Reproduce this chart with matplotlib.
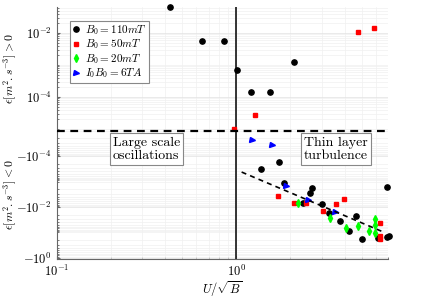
import numpy as np
import matplotlib
matplotlib.use("Agg")
import matplotlib.pyplot as plt
from matplotlib.ticker import FixedLocator, LogLocator, FuncFormatter, NullFormatter

plt.rcParams['font.family'] = 'serif'
plt.rcParams['font.serif'] = ['cmr10', 'DejaVu Serif']
plt.rcParams['mathtext.fontset'] = 'cm'
plt.rcParams['axes.formatter.use_mathtext'] = True

# --- data : U/sqrt(B) et epsilon (>0 en haut, |eps| pour eps<0 en bas) ---
# B0 = 110 mT
b110_pos_x = [0.428, 0.641, 0.855, 1.013, 1.207, 1.545, 2.10]
b110_pos_y = [0.066, 5.6e-3, 5.6e-3, 7.1e-4, 1.44e-4, 1.44e-4, 1.24e-3]
b110_neg_x = [1.733, 1.371, 1.848, 2.65, 2.58, 2.335, 2.99, 3.28, 4.62, 3.78, 4.21, 4.99, 6.10, 6.87, 6.87, 7.05]
b110_neg_y = [1.67e-4, 3.33e-4, 1.09e-3, 1.85e-3, 2.9e-3, 6.8e-3, 7.6e-3, 0.0177, 0.0236, 0.0344, 0.0873, 0.18, 0.164, 1.69e-3, 0.146, 0.133]
# B0 = 50 mT
b50_pos_x = [1.264, 0.966, 4.76, 5.84]
b50_pos_y = [2.7e-5, 1.0e-5, 0.0107, 0.0147]
b50_neg_x = [1.696, 2.10, 2.44, 3.58, 3.98, 3.05, 6.31, 6.31, 6.31]
b50_neg_y = [3.8e-3, 6.8e-3, 6.8e-3, 7.6e-3, 4.99e-3, 0.014, 0.0413, 0.133, 0.18]
# B0 = 20 mT
b20_neg_x = [2.21, 3.31, 4.07, 4.78, 5.45, 5.92, 5.92, 5.92]
b20_neg_y = [7.0e-3, 0.0277, 0.0684, 0.0546, 0.0873, 0.0303, 0.0531, 0.102]
# I0 B0 = 6 TA
i6_neg_x = [1.216, 1.578, 1.888, 2.52, 3.55]
i6_neg_y = [2.42e-5, 3.8e-5, 1.54e-3, 5.3e-3, 0.0161]
# ajustement (pente ~ 3)
fit_x = [1.07, 6.50]
fit_y = [4.24e-4, 0.093]

labels = [r'$B_0 = 110mT$', r'$B_0 = 50mT$', r'$B_0 = 20mT$', r'$I_0B_0 = 6TA$']

fig = plt.figure(figsize=(4.29, 2.99), dpi=100)
axL = 0.132
axW = 0.773
ax_top = fig.add_axes([axL, 0.563, axW, 0.414])
ax_bot = fig.add_axes([axL, 0.134, axW, 0.429], sharex=ax_top)

spine_col = '#666666'
for ax in (ax_top, ax_bot):
    ax.set_xscale('log')
    ax.set_yscale('log')
    for s in ('top', 'right'):
        ax.spines[s].set_visible(False)
    ax.spines['left'].set_color(spine_col)
    ax.spines['bottom'].set_color(spine_col)
    ax.tick_params(which='both', direction='in', colors=spine_col, labelcolor='black',
                   labelsize=9, length=2.5)
    ax.tick_params(which='minor', length=1.5)
    ax.grid(True, which='major', color='#e2e2e2', lw=0.5)
    ax.grid(True, which='minor', color='#f0f0f0', lw=0.5)
    ax.set_axisbelow(True)
ax_top.spines['bottom'].set_visible(False)
ax_bot.tick_params(axis='x', which='major', pad=3.5)

ax_top.set_xlim(0.1, 7.0)
ax_top.set_ylim(8.9e-6, 0.065)
ax_bot.set_ylim(1.1, 1.0e-5)

ax_top.yaxis.set_major_locator(FixedLocator([1e-4, 1e-2]))
ax_top.yaxis.set_major_formatter(FuncFormatter(lambda v, p: r'$10^{%d}$' % round(np.log10(v))))
ax_top.yaxis.set_minor_locator(LogLocator(base=10, subs=np.arange(1, 10), numticks=20))
ax_top.yaxis.set_minor_formatter(NullFormatter())
ax_bot.yaxis.set_major_locator(FixedLocator([1e-4, 1e-2, 1.0]))
ax_bot.yaxis.set_major_formatter(FuncFormatter(lambda v, p: r'$-10^{%d}$' % round(np.log10(v))))
ax_bot.yaxis.set_minor_locator(LogLocator(base=10, subs=np.arange(1, 10), numticks=20))
ax_bot.yaxis.set_minor_formatter(NullFormatter())
ax_bot.xaxis.set_major_locator(FixedLocator([0.1, 1.0]))
ax_bot.xaxis.set_major_formatter(FuncFormatter(lambda v, p: r'$10^{%d}$' % round(np.log10(v))))
ax_bot.xaxis.set_minor_locator(LogLocator(base=10, subs=np.arange(2, 10), numticks=20))
ax_bot.xaxis.set_minor_formatter(NullFormatter())
ax_top.tick_params(axis='x', which='both', bottom=False, labelbottom=False)

# points
ms = dict(linestyle='none', clip_on=False, zorder=3)
h1, = ax_top.plot(b110_pos_x, b110_pos_y, 'o', color='black', markersize=3.8, **ms)
h2, = ax_top.plot(b50_pos_x, b50_pos_y, 's', color='red', markersize=3.0, **ms)
ax_bot.plot(b110_neg_x, b110_neg_y, 'o', color='black', markersize=3.8, **ms)
ax_bot.plot(b50_neg_x, b50_neg_y, 's', color='red', markersize=3.0, **ms)
h3, = ax_bot.plot(b20_neg_x, b20_neg_y, 'd', color='#00ff00', markersize=4.0, **ms)
h4, = ax_bot.plot(i6_neg_x, i6_neg_y, '>', color='blue', markersize=3.6, **ms)

# droite d'ajustement
ax_bot.plot(fit_x, fit_y, color='black', lw=1.2, dashes=(3, 2.5), zorder=4)

# separations
ax_top.axvline(1.0, color='black', lw=1.1, zorder=2)
ax_bot.axvline(1.0, color='black', lw=1.1, zorder=2)
ax_bot.axhline(1.0e-5, color='black', lw=1.6, dashes=(3.5, 2.5), clip_on=False, zorder=5)

leg = ax_top.legend([h1, h2, h3, h4], labels, loc='upper left',
                    bbox_to_anchor=(0.041, 0.887), borderaxespad=0, fontsize=8,
                    handlelength=0.6, handletextpad=0.5, labelspacing=0.05,
                    borderpad=0.2, fancybox=False, framealpha=1)
leg.get_frame().set_edgecolor('#888888')
leg.get_frame().set_linewidth(0.8)

box = dict(boxstyle='square,pad=0.22', facecolor='white', edgecolor='#888888', lw=0.8)
ax_bot.text(0.17, 0.955, 'Large scale\noscillations', transform=ax_bot.transAxes,
            ha='left', va='top', fontsize=10, bbox=box, linespacing=1.1, zorder=6)
ax_bot.text(0.745, 0.955, 'Thin layer\nturbulence', transform=ax_bot.transAxes,
            ha='left', va='top', fontsize=10, bbox=box, linespacing=1.1, zorder=6)

ax_top.set_ylabel(r'$\epsilon[m^2.s^{-3}] > 0$', fontsize=8.5)
ax_bot.set_ylabel(r'$\epsilon[m^2.s^{-3}] < 0$', fontsize=8.5)
ax_top.yaxis.set_label_coords(-0.113, 0.5)
ax_bot.yaxis.set_label_coords(-0.113, 0.5)
ax_bot.set_xlabel(r'$U/\sqrt{B}$', fontsize=9, va='top')
ax_bot.xaxis.set_label_coords(0.5, -0.16)

fig.savefig('out.png', dpi=100)
